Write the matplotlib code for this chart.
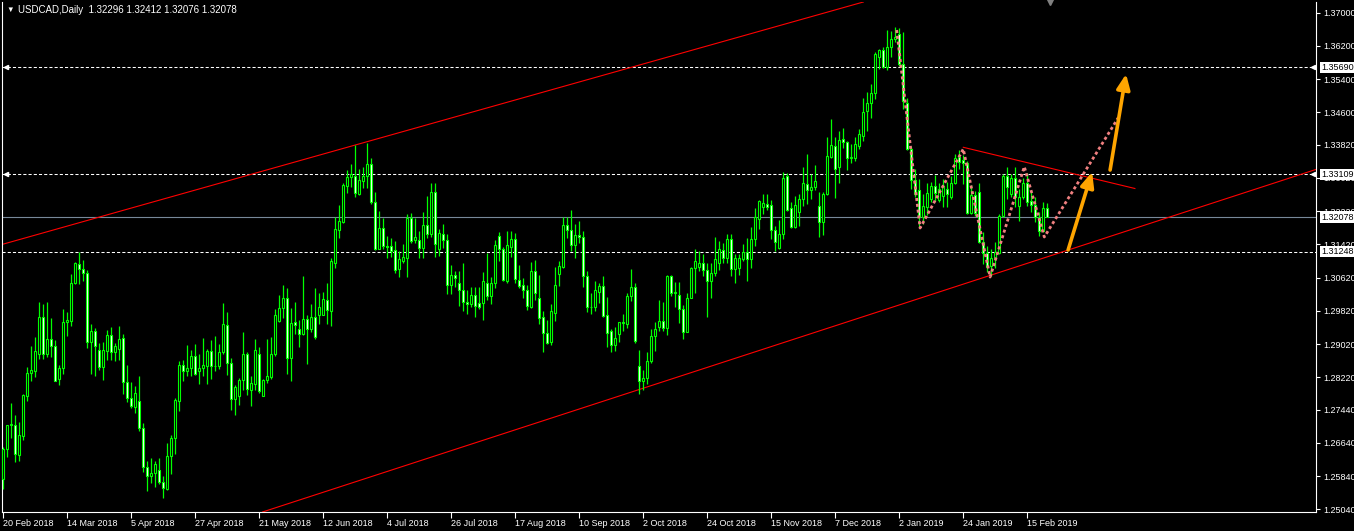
import numpy as np
import matplotlib.pyplot as plt

plt.rcParams['font.family'] = ['Liberation Sans', 'DejaVu Sans']

# daily USDCAD bars (bar index 0 = 20 Feb 2018)
opens = [
    1.2576, 1.2650, 1.2706, 1.2708, 1.2634, 1.2680, 1.2778, 1.2832, 1.2838, 1.2878,
    1.2966, 1.2878, 1.2914, 1.2898, 1.2818, 1.2844, 1.2954, 1.2958, 1.3050, 1.3094,
    1.3082, 1.3074, 1.2906, 1.2933, 1.2888, 1.2846, 1.2886, 1.2923, 1.2884, 1.2890,
    1.2916, 1.2810, 1.2772, 1.2750, 1.2764, 1.2700, 1.2606, 1.2584, 1.2592, 1.2598,
    1.2570, 1.2554, 1.2632, 1.2675, 1.2764, 1.2851, 1.2836, 1.2844, 1.2874, 1.2838,
    1.2844, 1.2850, 1.2886, 1.2848, 1.2848, 1.2882, 1.2947, 1.2856, 1.2770, 1.2776,
    1.2816, 1.2878, 1.2792, 1.2806, 1.2878, 1.2778, 1.2815, 1.2823, 1.2877, 1.2958,
    1.2989, 1.3013, 1.2868, 1.2954, 1.2937, 1.2926, 1.2962, 1.2938, 1.2968, 1.2972,
    1.2972, 1.3007, 1.2982, 1.3098, 1.3177, 1.3196, 1.3282, 1.3304, 1.3307, 1.3264,
    1.3295, 1.3307, 1.3335, 1.3244, 1.3132, 1.3181, 1.3137, 1.3139, 1.3128, 1.3083,
    1.3103, 1.3110, 1.3205, 1.3152, 1.3152, 1.3134, 1.3188, 1.3166, 1.3269, 1.3130,
    1.3166, 1.3152, 1.3045, 1.3069, 1.3050, 1.3033, 1.3003, 1.2999, 1.3020, 1.3001,
    1.3001, 1.3050, 1.3017, 1.3050, 1.3162, 1.3132, 1.3053, 1.3135, 1.3154, 1.3057,
    1.3044, 1.3031, 1.2991, 1.3079, 1.3012, 1.2967, 1.2929, 1.2907, 1.2977, 1.3071,
    1.3088, 1.3189, 1.3176, 1.3140, 1.3165, 1.3160, 1.3066, 1.2991, 1.2991, 1.3028,
    1.3041, 1.2971, 1.2933, 1.2899, 1.2926, 1.2954, 1.2950, 1.3017, 1.3039, 1.2850,
    1.2812, 1.2820, 1.2860, 1.2921, 1.2943, 1.2957, 1.2941, 1.3065, 1.3025, 1.3019,
    1.2986, 1.2931, 1.3013, 1.3084, 1.3088, 1.3096, 1.3081, 1.3055, 1.3072, 1.3096,
    1.3128, 1.3110, 1.3156, 1.3083, 1.3085, 1.3107, 1.3123, 1.3107, 1.3154, 1.3202,
    1.3233, 1.3240, 1.3238, 1.3176, 1.3134, 1.3168, 1.3307, 1.3229, 1.3184, 1.3219,
    1.3251, 1.3287, 1.3273, 1.3281, 1.3235, 1.3195, 1.3263, 1.3353, 1.3379, 1.3329,
    1.3395, 1.3388, 1.3350, 1.3351, 1.3380, 1.3404, 1.3464, 1.3482, 1.3506, 1.3593,
    1.3609, 1.3570, 1.3617, 1.3637, 1.3649, 1.3576, 1.3482, 1.3371, 1.3297, 1.3274,
    1.3207, 1.3233, 1.3251, 1.3283, 1.3249, 1.3259, 1.3275, 1.3257, 1.3290, 1.3352,
    1.3346, 1.3338, 1.3217, 1.3261, 1.3269, 1.3148, 1.3121, 1.3090, 1.3108, 1.3122,
    1.3211, 1.3307, 1.3263, 1.3301, 1.3235, 1.3255, 1.3291, 1.3247, 1.3237, 1.3207,
    1.3175, 1.32296,
]
highs = [
    1.2654, 1.2708, 1.2760, 1.2730, 1.2715, 1.2782, 1.2846, 1.2897, 1.2918, 1.3004,
    1.2998, 1.3004, 1.2964, 1.2912, 1.2852, 1.2986, 1.2979, 1.3070, 1.3100, 1.3124,
    1.3104, 1.3080, 1.2950, 1.2940, 1.2904, 1.2908, 1.2936, 1.2942, 1.2904, 1.2946,
    1.2926, 1.2852, 1.2811, 1.2800, 1.2824, 1.2712, 1.2620, 1.2628, 1.2620, 1.2628,
    1.2584, 1.2664, 1.2682, 1.2772, 1.2862, 1.2864, 1.2900, 1.2888, 1.2902, 1.2878,
    1.2916, 1.2890, 1.2912, 1.2922, 1.2902, 1.3002, 1.2978, 1.2868, 1.2804, 1.2820,
    1.2930, 1.2882, 1.2826, 1.2914, 1.2896, 1.2818, 1.2914, 1.2918, 1.2987, 1.3019,
    1.3043, 1.3037, 1.2988, 1.3004, 1.2961, 1.3066, 1.2972, 1.2998, 1.3037, 1.3025,
    1.3027, 1.3050, 1.3108, 1.3207, 1.3236, 1.3290, 1.3320, 1.3335, 1.3382, 1.3323,
    1.3329, 1.3385, 1.3351, 1.3269, 1.3223, 1.3205, 1.3161, 1.3158, 1.3149, 1.3126,
    1.3144, 1.3216, 1.3218, 1.3206, 1.3174, 1.3220, 1.3259, 1.3289, 1.3289, 1.3178,
    1.3192, 1.3166, 1.3092, 1.3078, 1.3078, 1.3097, 1.3031, 1.3039, 1.3039, 1.3039,
    1.3075, 1.3122, 1.3063, 1.3152, 1.3172, 1.3135, 1.3174, 1.3174, 1.3169, 1.3092,
    1.3060, 1.3044, 1.3100, 1.3104, 1.3068, 1.2981, 1.2961, 1.2999, 1.3087, 1.3102,
    1.3207, 1.3207, 1.3225, 1.3192, 1.3199, 1.3174, 1.3078, 1.3025, 1.3054, 1.3050,
    1.3066, 1.3015, 1.2937, 1.2942, 1.2955, 1.2975, 1.3025, 1.3082, 1.3050, 1.2887,
    1.2840, 1.2882, 1.2938, 1.2955, 1.3009, 1.3003, 1.3069, 1.3069, 1.3051, 1.3051,
    1.2997, 1.3025, 1.3088, 1.3132, 1.3126, 1.3120, 1.3098, 1.3098, 1.3160, 1.3150,
    1.3146, 1.3168, 1.3168, 1.3118, 1.3118, 1.3144, 1.3158, 1.3184, 1.3230, 1.3250,
    1.3263, 1.3263, 1.3249, 1.3186, 1.3201, 1.3317, 1.3315, 1.3243, 1.3259, 1.3263,
    1.3329, 1.3359, 1.3311, 1.3334, 1.3267, 1.3267, 1.3400, 1.3444, 1.3401, 1.3416,
    1.3422, 1.3392, 1.3384, 1.3401, 1.3420, 1.3494, 1.3508, 1.3528, 1.3605, 1.3613,
    1.3618, 1.3658, 1.3657, 1.3665, 1.3663, 1.3653, 1.3494, 1.3377, 1.3323, 1.3299,
    1.3263, 1.3291, 1.3293, 1.3309, 1.3289, 1.3299, 1.3293, 1.3306, 1.3360, 1.3370,
    1.3357, 1.3344, 1.3285, 1.3271, 1.3291, 1.3171, 1.3138, 1.3130, 1.3148, 1.3215,
    1.3311, 1.3328, 1.3311, 1.3328, 1.3275, 1.3303, 1.3314, 1.3267, 1.3255, 1.3219,
    1.3243, 1.32412,
]
lows = [
    1.2552, 1.2630, 1.2676, 1.2618, 1.2620, 1.2672, 1.2764, 1.2812, 1.2822, 1.2866,
    1.2866, 1.2870, 1.2870, 1.2812, 1.2804, 1.2830, 1.2922, 1.2946, 1.3046, 1.3046,
    1.3054, 1.2892, 1.2830, 1.2826, 1.2840, 1.2816, 1.2864, 1.2864, 1.2862, 1.2864,
    1.2782, 1.2762, 1.2747, 1.2736, 1.2692, 1.2594, 1.2548, 1.2568, 1.2558, 1.2566,
    1.2532, 1.2550, 1.2588, 1.2636, 1.2740, 1.2814, 1.2824, 1.2824, 1.2828, 1.2806,
    1.2824, 1.2806, 1.2818, 1.2838, 1.2842, 1.2878, 1.2828, 1.2744, 1.2732, 1.2754,
    1.2792, 1.2780, 1.2752, 1.2792, 1.2784, 1.2776, 1.2807, 1.2818, 1.2872, 1.2954,
    1.2964, 1.2831, 1.2814, 1.2926, 1.2894, 1.2924, 1.2853, 1.2932, 1.2915, 1.2950,
    1.2971, 1.2950, 1.2946, 1.3086, 1.3157, 1.3193, 1.3266, 1.3280, 1.3256, 1.3262,
    1.3278, 1.3277, 1.3239, 1.3128, 1.3131, 1.3132, 1.3108, 1.3112, 1.3074, 1.3063,
    1.3098, 1.3063, 1.3146, 1.3146, 1.3108, 1.3110, 1.3158, 1.3160, 1.3111, 1.3114,
    1.3134, 1.3023, 1.3023, 1.3039, 1.2993, 1.2981, 1.2974, 1.2991, 1.2966, 1.2987,
    1.2961, 1.3007, 1.2999, 1.3037, 1.3102, 1.3053, 1.3049, 1.3111, 1.3049, 1.3036,
    1.3013, 1.2985, 1.2989, 1.3009, 1.2950, 1.2884, 1.2902, 1.2900, 1.2957, 1.3041,
    1.3086, 1.3158, 1.3126, 1.3108, 1.3146, 1.3039, 1.2979, 1.2975, 1.2981, 1.3001,
    1.2967, 1.2896, 1.2883, 1.2886, 1.2908, 1.2933, 1.2941, 1.3005, 1.2904, 1.2781,
    1.2792, 1.2805, 1.2856, 1.2886, 1.2933, 1.2933, 1.2924, 1.3017, 1.2991, 1.2953,
    1.2914, 1.2931, 1.3013, 1.3025, 1.3077, 1.3065, 1.2967, 1.3013, 1.3065, 1.3081,
    1.3098, 1.3096, 1.3065, 1.3048, 1.3069, 1.3102, 1.3053, 1.3085, 1.3139, 1.3180,
    1.3214, 1.3226, 1.3154, 1.3126, 1.3131, 1.3154, 1.3222, 1.3181, 1.3182, 1.3187,
    1.3235, 1.3240, 1.3251, 1.3273, 1.3160, 1.3165, 1.3261, 1.3351, 1.3253, 1.3291,
    1.3375, 1.3321, 1.3337, 1.3343, 1.3371, 1.3392, 1.3414, 1.3446, 1.3492, 1.3564,
    1.3568, 1.3562, 1.3593, 1.3629, 1.3572, 1.3468, 1.3369, 1.3275, 1.3255, 1.3183,
    1.3191, 1.3212, 1.3243, 1.3247, 1.3243, 1.3231, 1.3231, 1.3251, 1.3287, 1.3324,
    1.3287, 1.3215, 1.3215, 1.3211, 1.3146, 1.3094, 1.3076, 1.3066, 1.3086, 1.3118,
    1.3207, 1.3251, 1.3255, 1.3233, 1.3199, 1.3251, 1.3235, 1.3219, 1.3196, 1.3163,
    1.3172, 1.32076,
]
closes = [
    1.2650, 1.2706, 1.2710, 1.2638, 1.2682, 1.2780, 1.2832, 1.2840, 1.2886, 1.2966,
    1.2878, 1.2914, 1.2898, 1.2814, 1.2844, 1.2954, 1.2959, 1.3050, 1.3098, 1.3082,
    1.3074, 1.2906, 1.2933, 1.2898, 1.2846, 1.2888, 1.2923, 1.2884, 1.2898, 1.2914,
    1.2810, 1.2772, 1.2752, 1.2784, 1.2700, 1.2606, 1.2584, 1.2592, 1.2614, 1.2570,
    1.2556, 1.2632, 1.2675, 1.2768, 1.2851, 1.2836, 1.2844, 1.2874, 1.2830, 1.2844,
    1.2852, 1.2886, 1.2848, 1.2850, 1.2883, 1.2950, 1.2856, 1.2770, 1.2798, 1.2816,
    1.2878, 1.2794, 1.2808, 1.2888, 1.2790, 1.2815, 1.2825, 1.2879, 1.2971, 1.2989,
    1.3013, 1.2868, 1.2953, 1.2948, 1.2926, 1.2962, 1.2938, 1.2968, 1.2920, 1.2991,
    1.3011, 1.2983, 1.3102, 1.3178, 1.3199, 1.3285, 1.3304, 1.3312, 1.3266, 1.3296,
    1.3307, 1.3335, 1.3244, 1.3131, 1.3181, 1.3137, 1.3135, 1.3127, 1.3080, 1.3106,
    1.3111, 1.3205, 1.3150, 1.3160, 1.3134, 1.3188, 1.3166, 1.3269, 1.3144, 1.3170,
    1.3152, 1.3045, 1.3069, 1.3060, 1.3033, 1.3003, 1.2999, 1.3021, 1.2993, 1.2991,
    1.3053, 1.3017, 1.3050, 1.3140, 1.3132, 1.3056, 1.3140, 1.3156, 1.3059, 1.3041,
    1.3031, 1.2993, 1.3079, 1.3025, 1.2965, 1.2929, 1.2904, 1.2981, 1.3044, 1.3090,
    1.3189, 1.3176, 1.3140, 1.3165, 1.3160, 1.3066, 1.2991, 1.2992, 1.3031, 1.3041,
    1.2969, 1.2929, 1.2899, 1.2917, 1.2954, 1.2952, 1.3017, 1.3039, 1.2910, 1.2812,
    1.2821, 1.2862, 1.2921, 1.2939, 1.2957, 1.2941, 1.3065, 1.3025, 1.3027, 1.2986,
    1.2931, 1.3013, 1.3084, 1.3103, 1.3098, 1.3080, 1.3055, 1.3072, 1.3106, 1.3130,
    1.3110, 1.3156, 1.3083, 1.3110, 1.3108, 1.3123, 1.3107, 1.3154, 1.3209, 1.3246,
    1.3242, 1.3233, 1.3176, 1.3147, 1.3168, 1.3303, 1.3226, 1.3184, 1.3237, 1.3251,
    1.3289, 1.3273, 1.3281, 1.3294, 1.3195, 1.3263, 1.3355, 1.3382, 1.3323, 1.3393,
    1.3388, 1.3350, 1.3353, 1.3384, 1.3408, 1.3462, 1.3482, 1.3506, 1.3601, 1.3609,
    1.3570, 1.3617, 1.3637, 1.3642, 1.3576, 1.3488, 1.3371, 1.3297, 1.3263, 1.3207,
    1.3235, 1.3266, 1.3283, 1.3266, 1.3275, 1.3283, 1.3263, 1.3291, 1.3349, 1.3340,
    1.3338, 1.3217, 1.3261, 1.3217, 1.3148, 1.3121, 1.3088, 1.3108, 1.3124, 1.3211,
    1.3307, 1.3279, 1.3301, 1.3255, 1.3255, 1.3291, 1.3245, 1.3237, 1.3207, 1.3175,
    1.3229, 1.32078,
]

date_labels = ['20 Feb 2018', '14 Mar 2018', '5 Apr 2018', '27 Apr 2018', '21 May 2018',
               '12 Jun 2018', '4 Jul 2018', '26 Jul 2018', '17 Aug 2018', '10 Sep 2018',
               '2 Oct 2018', '24 Oct 2018', '15 Nov 2018', '7 Dec 2018', '2 Jan 2019',
               '24 Jan 2019', '15 Feb 2019']
price_ticks = [1.37000, 1.36200, 1.35400, 1.34600, 1.33820, 1.33020, 1.32220, 1.31420,
               1.30620, 1.29820, 1.29020, 1.28220, 1.27440, 1.26640, 1.25840, 1.25040]
levels = [1.35690, 1.33109, 1.31248]
bid = 1.32078

# drawn objects, anchors as (bar index, price)
channel_top = [(0, 1.31427), (220, 1.37393)]
channel_bottom = [(100, 1.26077), (250, 1.30776)]
triangle_top = [(240, 1.33758), (282.9, 1.32766)]
wave_x = [223.35, 229.2, 240, 246.7, 255.25, 260.25, 278.7]
wave_y = [1.36583, 1.31815, 1.33717, 1.30634, 1.33291, 1.31598, 1.34464]
arrows = [((266.2, 1.31285), (272.2, 1.33163)),
          ((276.7, 1.33211), (280.7, 1.35524))]

W, H = 1354, 531
fig = plt.figure(figsize=(W / 100, H / 100), dpi=100, facecolor='black')
ax = fig.add_axes([2 / W, 1 - 512 / H, 1314 / W, 510 / H])
ax.set_facecolor('black')
ax.set_xlim(-0.325, 328.175)
ax.set_ylim(1.249745, 1.372577)

o = np.array(opens)
c = np.array(closes)
idx = np.arange(len(c))
up = c >= o
lime = '#00FF00'

ax.vlines(idx, lows, highs, color=lime, lw=0.9, zorder=3)
ax.bar(idx, np.abs(c - o), bottom=np.minimum(o, c), width=0.5,
       color=np.where(up, 'black', 'white'), edgecolor=lime, linewidth=0.8, zorder=4)

# levels and current bid
for lvl in levels:
    ax.axhline(lvl, color='white', lw=0.75, dashes=(3, 2), zorder=2)
ax.axhline(bid, color='#778899', lw=0.8, zorder=2)
for lvl in levels[:2]:
    ax.plot(0.6, lvl, marker='<', ms=3, color='white', zorder=5)
    ax.plot(327.4, lvl, marker='<', ms=3, color='white', zorder=5)

# channel + triangle
ax.axline(channel_top[0], channel_top[1], color='red', lw=0.8, zorder=2)
ax.axline(channel_bottom[0], channel_bottom[1], color='red', lw=0.8, zorder=2)
ax.plot(*zip(*triangle_top), color='red', lw=0.8, zorder=2)

# wave projection
ax.plot(wave_x, wave_y, color='#F08080', lw=2.0, linestyle=(0, (1.1, 1.0)),
        dash_capstyle='butt', zorder=6)

for start, end in arrows:
    ax.annotate('', xy=end, xytext=start,
                arrowprops=dict(arrowstyle='-|>,head_length=0.9,head_width=0.4',
                                color='#FFA500', lw=2.6, shrinkA=0, shrinkB=0,
                                mutation_scale=10), zorder=7)

# right axis boxes
ytr = ax.get_yaxis_transform()
for val in levels + [bid]:
    ax.text(1 + 5 / 1314, val, f'{val:.5f}', transform=ytr, color='black', fontsize=6.5,
            va='center', ha='left', clip_on=False, zorder=10,
            bbox=dict(boxstyle='square,pad=0.12', fc='white', ec='none'))

# shift marker
ax.plot(261.7, 1.0, transform=ax.get_xaxis_transform(), marker='v', ms=5,
        color='#808080', clip_on=False, zorder=8)

ax.yaxis.tick_right()
ax.set_yticks(price_ticks)
ax.set_yticklabels([f'{p:.5f}' for p in price_ticks])
ax.tick_params(axis='y', colors='white', length=3, width=0.8, labelsize=6.5, pad=2)
ax.set_xticks(np.arange(0, 16 * len(date_labels), 16))
ax.set_xticklabels(date_labels, ha='left')
ax.tick_params(axis='x', colors='white', length=4, width=0.8, labelsize=6.5, pad=1)
for side in ['left', 'right', 'bottom']:
    ax.spines[side].set_color('white')
    ax.spines[side].set_linewidth(0.8)
ax.spines['top'].set_visible(False)

fig.text(6 / W, 1 - 10 / H, '▼', color='white', fontsize=5.5, va='center')
fig.text(18 / W, 1 - 10 / H, 'USDCAD,Daily  1.32296 1.32412 1.32076 1.32078',
         color='white', fontsize=7, va='center')

fig.savefig('out.png', dpi=100, facecolor='black')
